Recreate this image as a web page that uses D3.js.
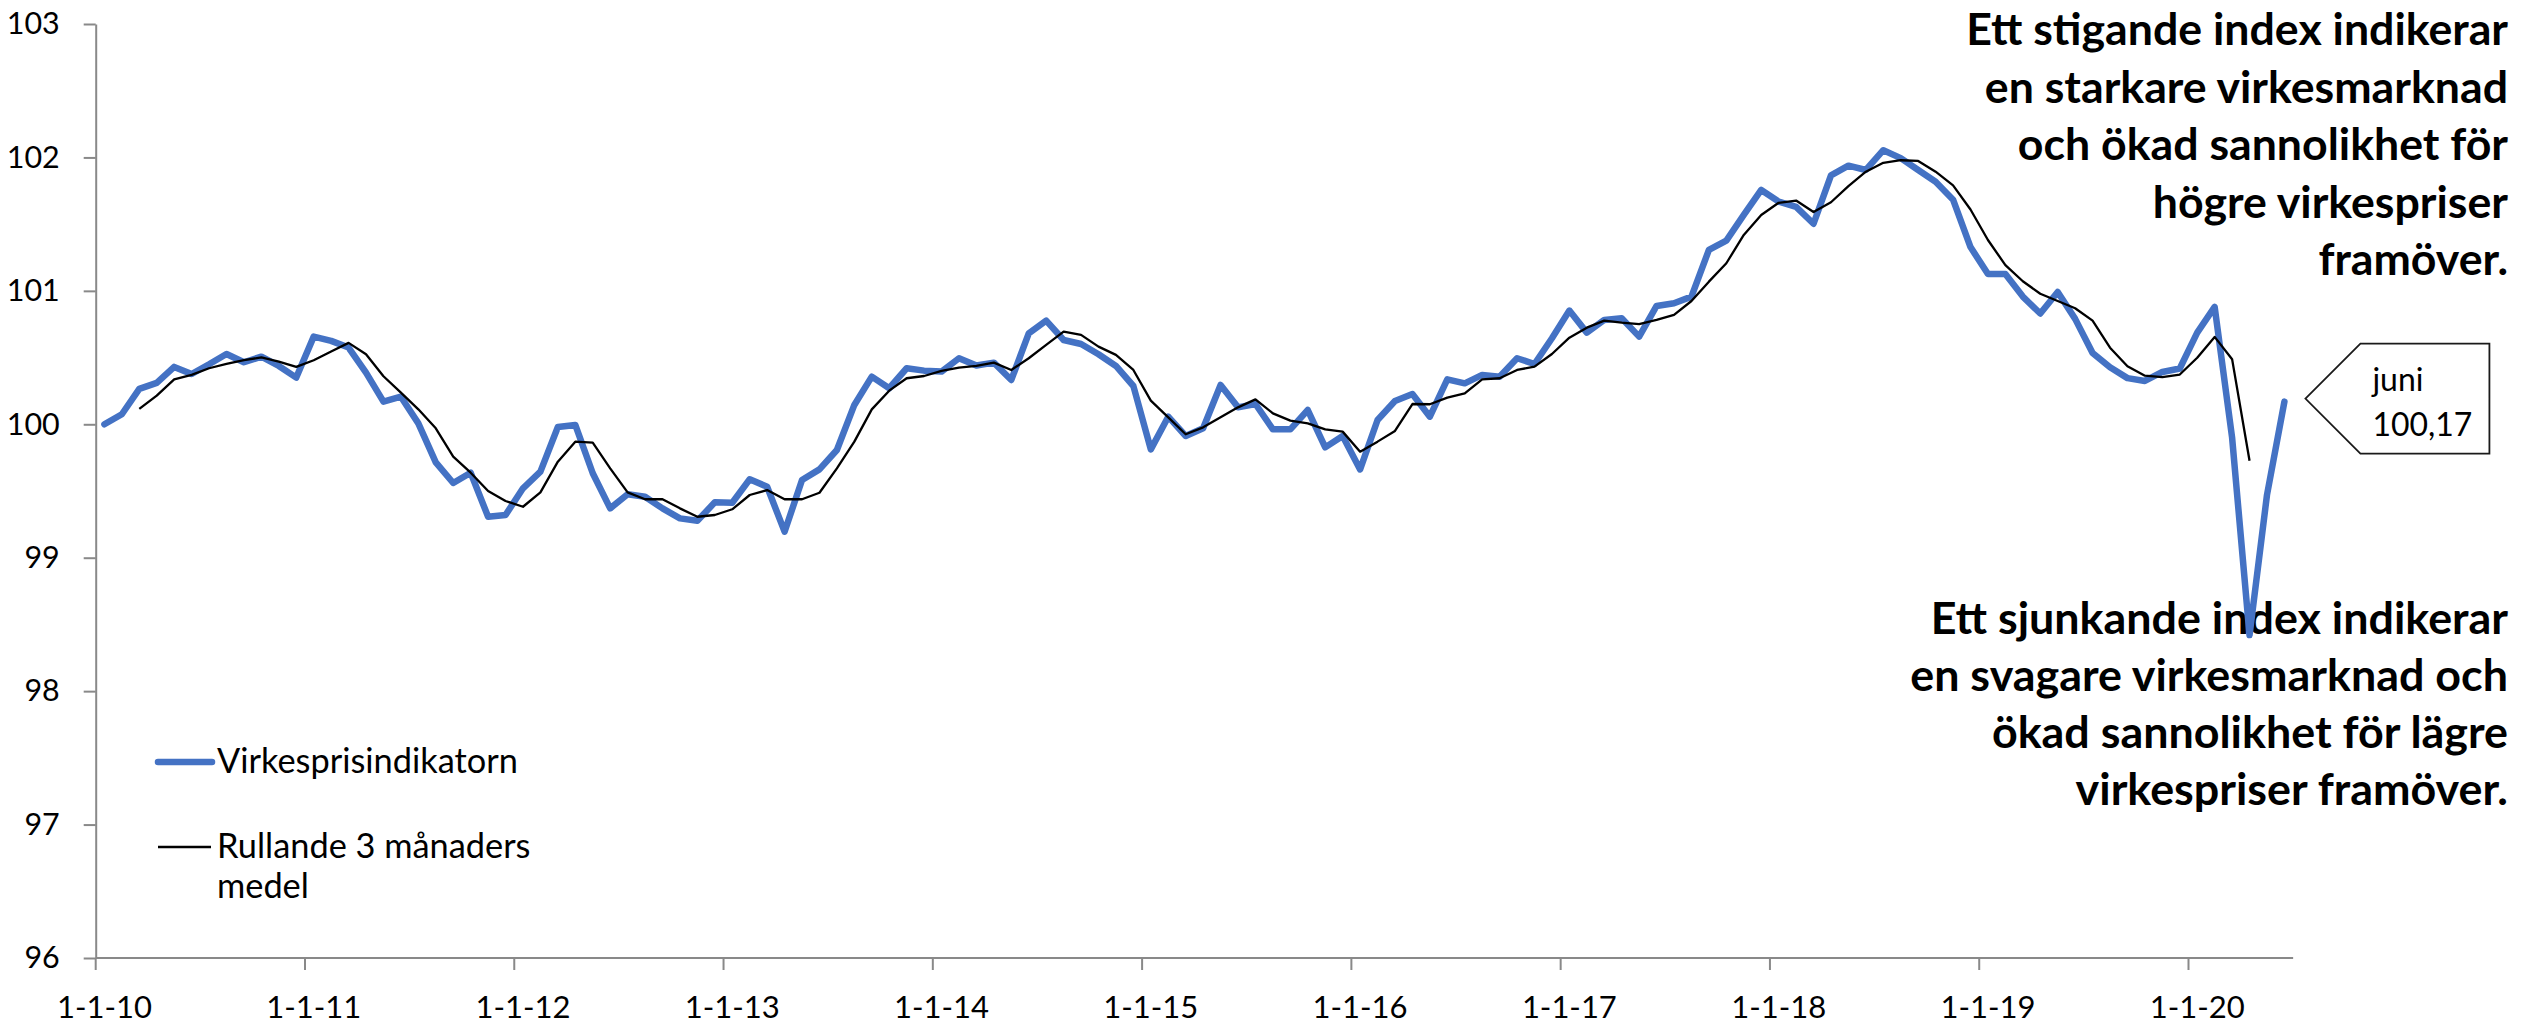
<!DOCTYPE html>
<html>
<head>
<meta charset="utf-8">
<script src="https://cdn.jsdelivr.net/npm/d3@7"></script>
<style>
  html, body { margin: 0; padding: 0; background: #ffffff; }
  svg { display: block; }
  text { font-family: Lato, "Noto Sans", "DejaVu Sans", sans-serif; fill: #000; }
</style>
</head>
<body>
<svg id="chart" width="2526" height="1025"></svg>
<script>
// ---------------- DATA ----------------
const firstMonth = new Date(2010, 0, 1);
const endMonthExclusive = new Date(2020, 6, 1);   // Jan 2010 .. Jun 2020 (126 months)

const virkesprisindikatorn = [
  100.00, 100.075, 100.265, 100.31, 100.43, 100.377, 100.45, 100.527, 100.465, 100.507, 100.437, 100.35,
  100.657, 100.625, 100.575, 100.387, 100.17, 100.207, 100.007, 99.715, 99.56, 99.637, 99.307, 99.32,
  99.52, 99.645, 99.98, 99.995, 99.633, 99.37, 99.475, 99.457, 99.37, 99.295, 99.277, 99.415,
  99.412, 99.588, 99.532, 99.195, 99.582, 99.662, 99.807, 100.145, 100.357, 100.27, 100.42, 100.402,
  100.395, 100.495, 100.44, 100.462, 100.332, 100.682, 100.777, 100.632, 100.602, 100.525, 100.437, 100.287,
  99.812, 100.057, 99.912, 99.97, 100.295, 100.127, 100.152, 99.962, 99.962, 100.107, 99.827, 99.912,
  99.662, 100.032, 100.175, 100.227, 100.057, 100.337, 100.307, 100.37, 100.357, 100.495, 100.452, 100.645,
  100.852, 100.687, 100.782, 100.795, 100.657, 100.887, 100.907, 100.957, 101.307, 101.377, 101.569, 101.756,
  101.669, 101.629, 101.503, 101.866, 101.938, 101.906, 102.054, 101.995, 101.906, 101.818, 101.683, 101.328,
  101.126, 101.126, 100.957, 100.83, 100.992, 100.79, 100.534, 100.427, 100.346, 100.325, 100.392, 100.418,
  100.687, 100.88, 99.90, 98.42, 99.47, 100.17
];

const rullande3 = [
  null, null, 100.115, 100.215, 100.337, 100.37, 100.42, 100.452, 100.48, 100.502, 100.47, 100.43,
  100.48, 100.545, 100.61, 100.525, 100.36, 100.237, 100.112, 99.97, 99.757, 99.637, 99.50, 99.425,
  99.382, 99.49, 99.72, 99.87, 99.862, 99.67, 99.49, 99.438, 99.438, 99.37, 99.307, 99.32,
  99.363, 99.47, 99.507, 99.438, 99.438, 99.487, 99.67, 99.87, 100.112, 100.252, 100.345, 100.362,
  100.40, 100.425, 100.437, 100.462, 100.407, 100.495, 100.595, 100.695, 100.67, 100.582, 100.52, 100.407,
  100.177, 100.052, 99.925, 99.977, 100.052, 100.127, 100.187, 100.082, 100.027, 100.007, 99.962, 99.945,
  99.795, 99.87, 99.95, 100.152, 100.15, 100.2, 100.232, 100.337, 100.345, 100.407, 100.432, 100.527,
  100.649, 100.724, 100.777, 100.762, 100.75, 100.782, 100.82, 100.924, 101.069, 101.207, 101.419, 101.569,
  101.66, 101.677, 101.591, 101.664, 101.785, 101.893, 101.96, 101.979, 101.974, 101.893, 101.791, 101.61,
  101.381, 101.193, 101.072, 100.978, 100.924, 100.87, 100.777, 100.574, 100.435, 100.364, 100.354, 100.373,
  100.499, 100.655, 100.488, 99.727, null, null
];

const seriesNames = ["Virkesprisindikatorn", "Rullande 3 månaders", "medel"];
const yTickValues = [96, 97, 98, 99, 100, 101, 102, 103];
const xTickLabels = ["1-1-10", "1-1-11", "1-1-12", "1-1-13", "1-1-14", "1-1-15",
                     "1-1-16", "1-1-17", "1-1-18", "1-1-19", "1-1-20"];
const calloutLines = ["juni", "100,17"];
const noteRising = ["Ett stigande index indikerar", "en starkare virkesmarknad",
                    "och ökad sannolikhet för", "högre virkespriser", "framöver."];
const noteFalling = ["Ett sjunkande index indikerar", "en svagare virkesmarknad och",
                     "ökad sannolikhet för lägre", "virkespriser framöver."];

// ---------------- LAYOUT ----------------
const W = 2526, H = 1025;
const axisLeftX = 95.7, slotW = 17.44;
const plotTop = 24, plotBottom = 958;
const axisColor = "#898989";
const blue = "#4472C4";

const svg = d3.select("#chart");
svg.append("rect").attr("width", W).attr("height", H).attr("fill", "#fff");

const months = d3.timeMonth.range(firstMonth, endMonthExclusive);
const keys = months.map(d => +d);
const x = d3.scaleBand().domain(keys).range([axisLeftX, axisLeftX + keys.length * slotW]).paddingInner(0).paddingOuter(0);
const cx = i => x(keys[i]) + x.bandwidth() / 2;
const y = d3.scaleLinear().domain([96, 103]).range([plotBottom, plotTop]);

function fitSize(str, target, weight) {
  const t = svg.append("text").attr("font-size", 100).attr("font-weight", weight).text(str);
  const w = t.node().getComputedTextLength();
  t.remove();
  return 100 * target / w;
}

const tickFont = fitSize("1-1-10", 95, 400);
const yTickFont = fitSize("103", 53, 400);
const legendFont = fitSize("Virkesprisindikatorn", 301, 400);
const calloutFont = fitSize("100,17", 100, 400);
const noteFontTop = fitSize(noteRising[0], 542, 700);
const noteFontBottom = fitSize(noteFalling[1], 598, 700);

// ---------------- Y AXIS ----------------
const gy = svg.append("g").attr("transform", `translate(${axisLeftX},0)`)
  .call(d3.axisLeft(y).tickValues(yTickValues).tickFormat(d3.format("d"))
        .tickSize(12).tickSizeOuter(0).tickPadding(24));
gy.selectAll("path.domain").attr("stroke", axisColor).attr("stroke-width", 2);
gy.selectAll(".tick line").attr("stroke", axisColor).attr("stroke-width", 2);
gy.selectAll(".tick text").attr("font-size", yTickFont).attr("font-family", null).attr("fill", "#000");

// ---------------- X AXIS ----------------
const janIdx = months.map((d, i) => d.getMonth() === 0 ? i : -1).filter(i => i >= 0);
const gx = svg.append("g").attr("transform", `translate(0,${plotBottom})`);
gx.append("line").attr("x1", axisLeftX).attr("x2", axisLeftX + keys.length * slotW)
  .attr("y1", 0).attr("y2", 0).attr("stroke", axisColor).attr("stroke-width", 2);
gx.selectAll("line.tk").data(janIdx).join("line").attr("class", "tk")
  .attr("x1", i => x(keys[i])).attr("x2", i => x(keys[i]))
  .attr("y1", 0).attr("y2", 12).attr("stroke", axisColor).attr("stroke-width", 2);
gx.selectAll("text.tl").data(janIdx).join("text").attr("class", "tl")
  .attr("x", i => cx(i)).attr("y", 60).attr("text-anchor", "middle")
  .attr("font-size", tickFont).text((i, k) => xTickLabels[k]);

// ---------------- ANNOTATIONS (under lines) ----------------
const noteRight = 2508;
svg.append("g").selectAll("text").data(noteRising).join("text")
  .attr("x", noteRight).attr("y", (d, i) => 45 + i * 57.5)
  .attr("text-anchor", "end").attr("font-weight", 700).attr("font-size", noteFontTop).text(d => d);
svg.append("g").selectAll("text").data(noteFalling).join("text")
  .attr("x", noteRight).attr("y", (d, i) => 634 + i * 57)
  .attr("text-anchor", "end").attr("font-weight", 700).attr("font-size", noteFontBottom).text(d => d);

// ---------------- LINES ----------------
const idx = d3.range(months.length);
const blueLine = d3.line().x(i => cx(i)).y(i => y(virkesprisindikatorn[i]));
const blackLine = d3.line().defined(i => rullande3[i] != null).x(i => cx(i)).y(i => y(rullande3[i]));

svg.append("path").datum(idx).attr("d", blueLine)
  .attr("fill", "none").attr("stroke", blue).attr("stroke-width", 6.5)
  .attr("stroke-linejoin", "round").attr("stroke-linecap", "round");
svg.append("path").datum(idx).attr("d", blackLine)
  .attr("fill", "none").attr("stroke", "#000").attr("stroke-width", 2.3)
  .attr("stroke-linejoin", "round");

// ---------------- LEGEND ----------------
const lg = svg.append("g");
lg.append("line").attr("x1", 158).attr("x2", 212).attr("y1", 762).attr("y2", 762)
  .attr("stroke", blue).attr("stroke-width", 6.5).attr("stroke-linecap", "round");
lg.append("text").attr("x", 217).attr("y", 773).attr("font-size", legendFont).text(seriesNames[0]);
lg.append("line").attr("x1", 158).attr("x2", 211).attr("y1", 847).attr("y2", 847)
  .attr("stroke", "#000").attr("stroke-width", 2.3);
lg.append("text").attr("x", 217).attr("y", 858).attr("font-size", legendFont).text(seriesNames[1]);
lg.append("text").attr("x", 217).attr("y", 898).attr("font-size", legendFont).text(seriesNames[2]);

// ---------------- CALLOUT ----------------
const last = virkesprisindikatorn.length - 1;
const tipX = cx(last) + 21, tipY = y(virkesprisindikatorn[last]) - 3;
const bx0 = tipX + 55, bx1 = tipX + 184, by0 = tipY - 55, by1 = tipY + 55;
svg.append("path")
  .attr("d", `M${tipX},${tipY}L${bx0},${by0}L${bx1},${by0}L${bx1},${by1}L${bx0},${by1}Z`)
  .attr("fill", "#fff").attr("stroke", "#1a1a1a").attr("stroke-width", 1.8);
svg.append("g").selectAll("text").data(calloutLines).join("text")
  .attr("x", bx0 + 12).attr("y", (d, i) => tipY - 8 + i * 45)
  .attr("font-size", calloutFont).text(d => d);
</script>
</body>
</html>
